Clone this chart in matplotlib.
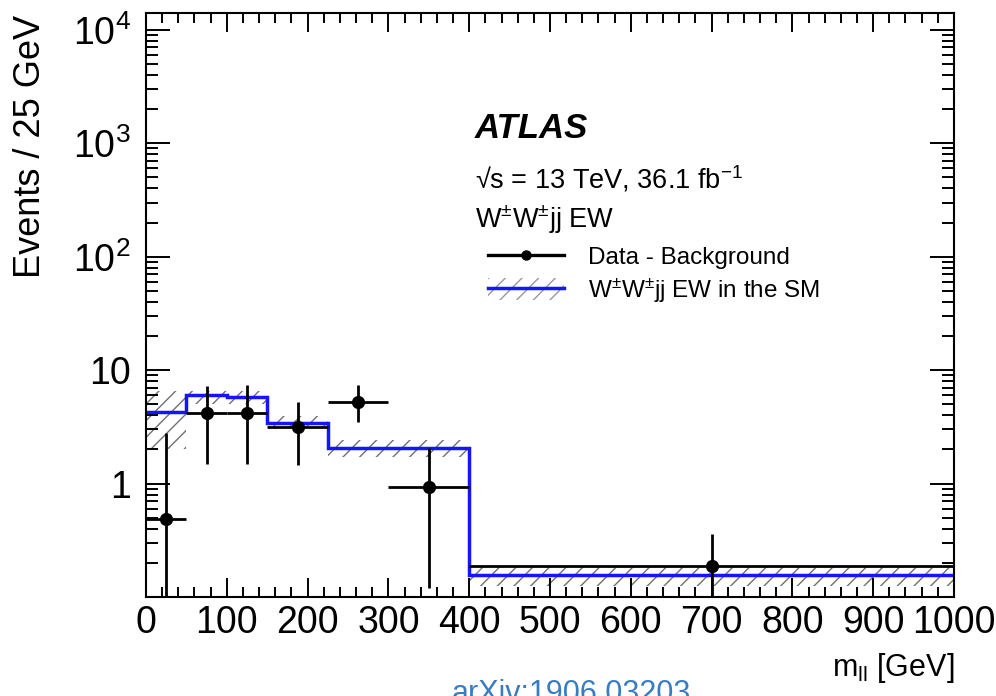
import numpy as np
import matplotlib
matplotlib.use("Agg")
import matplotlib.pyplot as plt
from matplotlib.patches import Patch
from matplotlib.lines import Line2D
from matplotlib.ticker import FixedLocator, FixedFormatter, MultipleLocator, LogLocator, NullFormatter

plt.rcParams['font.family'] = ['Liberation Sans', 'DejaVu Sans']
plt.rcParams['mathtext.fontset'] = 'custom'
plt.rcParams['mathtext.rm'] = 'Liberation Sans'
plt.rcParams['mathtext.it'] = 'Liberation Sans:italic'
plt.rcParams['mathtext.bf'] = 'Liberation Sans:bold'
plt.rcParams['hatch.linewidth'] = 1.0

# ---- data ----
bin_edges = [0, 50, 100, 150, 225, 300, 400, 1000]
sm_pred = [4.3, 6.0, 5.75, 3.4, 2.04, 2.04, 0.155]
sm_low = [2.0, 5.0, 5.0, 3.08, 1.72, 1.72, 0.125]
sm_high = [6.6, 6.6, 6.5, 3.95, 2.4, 2.4, 0.185]

data_x = [25, 75, 125, 187.5, 262.5, 350, 700]
data_xerr = [25, 25, 25, 37.5, 37.5, 50, 300]
data_y = [0.49, 4.2, 4.2, 3.16, 5.25, 0.93, 0.187]
data_up = [2.8, 7.2, 7.4, 5.25, 7.4, 2.06, 0.36]
data_down = [0.001, 1.5, 1.5, 1.45, 3.5, 0.12, 0.001]

ytick_vals = [1, 10, 100, 1000, 10000]
ytick_labels = ['1', '10', '10$^{2}$', '10$^{3}$', '10$^{4}$']

fig = plt.figure(figsize=(9.96, 6.96), dpi=100)
ax = fig.add_axes([0.1466, 0.1422, 0.8112, 0.8387])

# uncertainty band
ax.stairs(sm_high, bin_edges, baseline=sm_low, fill=True, hatch='//',
          facecolor='none', edgecolor='#707070', linewidth=0, zorder=1)
# SM prediction
ax.stairs(sm_pred, bin_edges, baseline=None, color='#1414ff', linewidth=2.5, zorder=2)

# data
dy = np.array(data_y)
yerr = [dy - np.array(data_down), np.array(data_up) - dy]
ax.errorbar(data_x, data_y, xerr=data_xerr, yerr=yerr, fmt='o', color='black',
            markersize=8.5, elinewidth=2.0, capsize=0, zorder=3)

ax.set_yscale('log')
ax.set_xlim(0, 1000)
ax.set_ylim(0.1, 1.4e4)

ax.xaxis.set_major_locator(MultipleLocator(100))
ax.xaxis.set_minor_locator(MultipleLocator(20))
ax.yaxis.set_major_locator(FixedLocator(ytick_vals))
ax.yaxis.set_major_formatter(FixedFormatter(ytick_labels))
ax.yaxis.set_minor_locator(LogLocator(base=10, subs=np.arange(2, 10)))
ax.yaxis.set_minor_formatter(NullFormatter())

ax.tick_params(axis='both', which='both', direction='in', top=True, right=True,
               width=1.4, labelsize=27)
ax.tick_params(axis='x', which='major', length=13.5, pad=6)
ax.tick_params(axis='x', which='minor', length=7)
ax.tick_params(axis='y', which='major', length=17, pad=11)
ax.tick_params(axis='y', which='minor', length=8.5)
for s in ax.spines.values():
    s.set_linewidth(1.5)

fig.text(0.031, (696 - 15) / 696, 'Events / 25 GeV', rotation=90, ha='center',
         va='top', fontsize=26)
fig.text(954 / 996, (696 - 676) / 696, r'm$_{\mathregular{ll}}$ [GeV]', ha='right',
         va='baseline', fontsize=22)
fig.text(452 / 996, -0.009, 'arXiv:1906.03203', ha='left', va='baseline',
         fontsize=22, color='#3a7cc2')

ax.text(0.407, 0.786, 'ATLAS', transform=ax.transAxes, fontsize=25,
        fontweight='bold', fontstyle='italic', va='baseline')
ax.text(0.407, 0.700, '\u221as = 13 TeV, 36.1 fb$^{\\mathregular{-1}}$',
        transform=ax.transAxes, fontsize=19.5, va='baseline')
ax.text(0.407, 0.633, r'W$^{\pm}$W$^{\pm}$jj EW', transform=ax.transAxes,
        fontsize=19.5, va='baseline')

h_data = Line2D([], [], color='black', marker='o', markersize=6.5, linewidth=2.4)
h_sm = (Patch(facecolor='none', edgecolor='#999999', hatch='//', linewidth=0),
        Line2D([], [], color='#1414ff', linewidth=2.5))
ax.legend([h_data, h_sm], ['Data - Background', r'W$^{\pm}$W$^{\pm}$jj EW in the SM'],
          loc='upper left', bbox_to_anchor=(0.4236, 0.603), frameon=False,
          fontsize=17.5, handlelength=3.1, handleheight=1.0, handletextpad=1.0,
          labelspacing=0.3, borderaxespad=0, borderpad=0)

fig.savefig('out.png', dpi=100)
